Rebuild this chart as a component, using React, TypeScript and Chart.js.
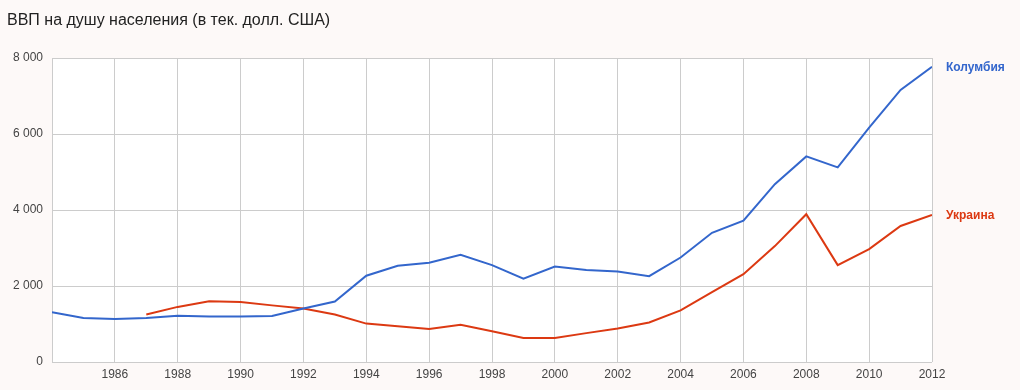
import React, { useEffect, useRef } from "react";
import { Chart, registerables } from "chart.js";

Chart.register(...registerables);

const years = [1984, 1985, 1986, 1987, 1988, 1989, 1990, 1991, 1992, 1993, 1994, 1995, 1996, 1997, 1998, 1999, 2000, 2001, 2002, 2003, 2004, 2005, 2006, 2007, 2008, 2009, 2010, 2011, 2012];
const colombia = [1310, 1160, 1130, 1160, 1220, 1200, 1200, 1210, 1410, 1590, 2270, 2530, 2610, 2820, 2550, 2190, 2510, 2420, 2380, 2260, 2750, 3400, 3720, 4680, 5410, 5120, 6170, 7160, 7770];
const ukraine = [null, null, null, 1250, 1450, 1600, 1580, 1490, 1410, 1250, 1010, 940, 870, 980, 810, 630, 630, 760, 880, 1040, 1360, 1840, 2310, 3050, 3890, 2550, 2970, 3580, 3870];
const seriesNames = ["Колумбия", "Украина"];
const seriesColors = ["#3366cc", "#dc3912"];
const title = "ВВП на душу населения (в тек. долл. США)";

export default function App() {
  const ref = useRef<HTMLCanvasElement>(null);
  useEffect(() => {
    document.body.style.margin = "0";
    const ctx = ref.current!.getContext("2d")!;
    const toPts = (arr: (number | null)[]) =>
      years.map((y, i) => ({ x: y, y: arr[i] })).filter((p) => p.y !== null);
    const bgPlugin = {
      id: "bgPlugin",
      beforeDraw(chart: any) {
        const c = chart.ctx;
        const a = chart.chartArea;
        c.save();
        c.fillStyle = "#ffffff";
        c.fillRect(a.left, a.top, a.right - a.left, a.bottom - a.top);
        c.restore();
      },
      afterDraw(chart: any) {
        const c = chart.ctx;
        c.save();
        c.fillStyle = "#222222";
        c.font = "16px 'Liberation Sans', Arial, sans-serif";
        c.textBaseline = "middle";
        c.textAlign = "left";
        c.fillText(title, 7, 21);
        chart.data.datasets.forEach((ds: any, i: number) => {
          const meta = chart.getDatasetMeta(i);
          const last = meta.data[meta.data.length - 1];
          c.fillStyle = seriesColors[i];
          c.font = "bold 12px 'Liberation Sans', Arial, sans-serif";
          c.fillText(seriesNames[i], 946, last.y + 1);
        });
        c.restore();
      },
    };
    const chart = new Chart(ctx, {
      type: "line",
      data: {
        datasets: [
          { label: seriesNames[0], data: toPts(colombia) as any, borderColor: seriesColors[0], borderWidth: 2, pointRadius: 0, tension: 0 },
          { label: seriesNames[1], data: toPts(ukraine) as any, borderColor: seriesColors[1], borderWidth: 2, pointRadius: 0, tension: 0 },
        ],
      },
      options: {
        animation: false,
        responsive: false,
        maintainAspectRatio: false,
        layout: { padding: { left: 0, top: 58, right: 88, bottom: 0 } },
        plugins: { legend: { display: false }, tooltip: { enabled: false }, title: { display: false } },
        scales: {
          x: {
            type: "linear",
            min: 1984,
            max: 2012,
            ticks: {
              stepSize: 2,
              autoSkip: false,
              maxRotation: 0,
              color: "#444444",
              font: { family: "'Liberation Sans', Arial, sans-serif", size: 12 },
              padding: 5,
              callback: (v: any) => (v === 1984 ? "" : String(v)),
            },
            grid: { color: "#cccccc", drawTicks: false, lineWidth: 1 },
            border: { display: false },
            afterFit: (s: any) => { s.height = 28; },
          },
          y: {
            min: 0,
            max: 8000,
            ticks: {
              stepSize: 2000,
              color: "#444444",
              font: { family: "'Liberation Sans', Arial, sans-serif", size: 12 },
              padding: 9,
              callback: (v: any) => (v === 0 ? "0" : String(v).replace(/\B(?=(\d{3})+(?!\d))/g, " ")),
            },
            grid: { color: "#cccccc", drawTicks: false, lineWidth: 1 },
            border: { display: false },
            afterFit: (s: any) => { s.width = 52; },
          },
        },
      },
      plugins: [bgPlugin],
    });
    return () => chart.destroy();
  }, []);
  return (
    <div style={{ position: "absolute", left: 0, top: 0, width: 1020, height: 390, background: "#fdf9f8" }}>
      <canvas ref={ref} width={1020} height={390} style={{ width: 1020, height: 390, display: "block" }} />
    </div>
  );
}
